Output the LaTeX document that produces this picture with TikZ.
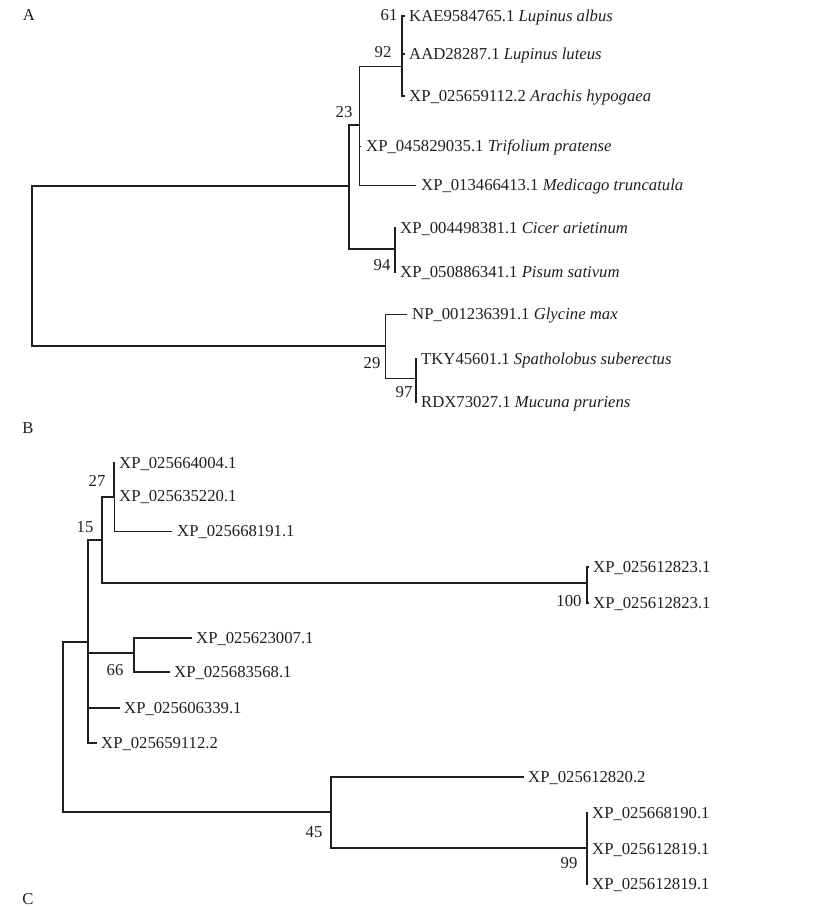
\documentclass[tikz,border=0pt]{standalone}
\usepackage{fontspec}
\setmainfont{Liberation Serif}
\begin{document}
\begin{tikzpicture}[x=1pt,y=-1pt,
  br/.style={line width=1.1pt, draw=black!88, line cap=rect},
  thk/.style={line width=1.7pt},
  thn/.style={line width=0.8pt},
  txt/.style={font=\fontsize{16.7}{18}\selectfont, text=black!88, text height=1.15em, text depth=0pt},
  leaf/.style={txt, anchor=west, inner xsep=5pt, inner ysep=0pt},
  bs/.style={txt, inner sep=0pt},
  panel/.style={txt, inner sep=0pt}]
\useasboundingbox (0,0) rectangle (823,908);

% ---------------- panel labels
\node[panel] (pA) at (29,15) {A};
\node[panel] (pB) at (28,428) {B};
\node[panel] (pC) at (28,899) {C};

% ================= Tree A
\coordinate (rA) at (32,266);
\coordinate (nX) at (349,186);
\coordinate (n23) at (359,125);
\coordinate (n92) at (402,66);
\coordinate (n61) at (402,36);
\coordinate (n94) at (395,249);
\coordinate (n29) at (385,346);
\coordinate (n97) at (416,378);

\node[leaf] (albus) at (404,16) {KAE9584765.1 \textit{Lupinus albus}};
\node[leaf] (luteus) at (404,54) {AAD28287.1 \textit{Lupinus luteus}};
\node[leaf] (arachis) at (404,96) {XP\_025659112.2 \textit{Arachis hypogaea}};
\node[leaf] (trif) at (361,146) {XP\_045829035.1 \textit{Trifolium pratense}};
\node[leaf] (medic) at (416,185) {XP\_013466413.1 \textit{Medicago truncatula}};
\node[leaf] (cicer) at (395,228) {XP\_004498381.1 \textit{Cicer arietinum}};
\node[leaf] (pisum) at (395,272) {XP\_050886341.1 \textit{Pisum sativum}};
\node[leaf] (glyc) at (407,314) {NP\_001236391.1 \textit{Glycine max}};
\node[leaf] (spat) at (416,359) {TKY45601.1 \textit{Spatholobus suberectus}};
\node[leaf] (mucu) at (416,402) {RDX73027.1 \textit{Mucuna pruriens}};

\draw[br,thk] (rA) |- (nX);
\draw[br,thk] (rA) |- (n29);
\draw[br,thk] (nX) |- (n23);
\draw[br,thk] (nX) |- (n94);
\draw[br,thn] (n23) |- (n92);
\draw[br,thn] (n23) |- (trif.west);
\draw[br,thn] (n23) |- (medic.west);
\draw[br,thk] (n92) |- (n61);
\draw[br] (n61) |- (albus.west);
\draw[br] (n61) |- (luteus.west);
\draw[br] (n92) |- (arachis.west);
\draw[br] (n94) |- (cicer.west);
\draw[br] (n94) |- (pisum.west);
\draw[br,thn] (n29) |- (glyc.west);
\draw[br,thn] (n29) |- (n97);
\draw[br,thk] (n97) |- (spat.west);
\draw[br,thk] (n97) |- (mucu.west);

\node[bs] (b61) at (389,15) {61};
\node[bs] (b92) at (383,52) {92};
\node[bs] (b23) at (344,112) {23};
\node[bs] (b94) at (382,265) {94};
\node[bs] (b29) at (372,363) {29};
\node[bs] (b97) at (404,392) {97};

% ================= Tree B
\coordinate (rB) at (63,727);
\coordinate (n88) at (88,642);
\coordinate (n15) at (102,540);
\coordinate (n27) at (114,497);
\coordinate (n100) at (587,583);
\coordinate (n66) at (134,653);
\coordinate (n45) at (331,812);
\coordinate (n99) at (587,848);

\node[leaf] (l1) at (114,463) {XP\_025664004.1};
\node[leaf] (l2) at (114,496) {XP\_025635220.1};
\node[leaf] (l3) at (172,531) {XP\_025668191.1};
\node[leaf] (l4) at (588,567) {XP\_025612823.1};
\node[leaf] (l5) at (588,603) {XP\_025612823.1};
\node[leaf] (l6) at (191,638) {XP\_025623007.1};
\node[leaf] (l7) at (169,672) {XP\_025683568.1};
\node[leaf] (l8) at (119,708) {XP\_025606339.1};
\node[leaf] (l9) at (96,743) {XP\_025659112.2};
\node[leaf] (l10) at (523,777) {XP\_025612820.2};
\node[leaf] (l11) at (587,813) {XP\_025668190.1};
\node[leaf] (l12) at (587,849) {XP\_025612819.1};
\node[leaf] (l13) at (587,884) {XP\_025612819.1};

\draw[br] (rB) |- (n88);
\draw[br] (rB) |- (n45);
\draw[br,thk] (n88) |- (n15);
\draw[br] (n88) |- (n66);
\draw[br,thk] (n88) |- (l8.west);
\draw[br,thk] (n88) |- (l9.west);
\draw[br] (n15) |- (n27);
\draw[br,thk] (n15) |- (n100);
\draw[br] (n27) |- (l1.west);
\draw[br] (n27) |- (l2.west);
\draw[br,thn] (n27) |- (l3.west);
\draw[br,thk] (n100) |- (l4.west);
\draw[br,thk] (n100) |- (l5.west);
\draw[br] (n66) |- (l6.west);
\draw[br] (n66) |- (l7.west);
\draw[br,thk] (n45) |- (l10.west);
\draw[br,thk] (n45) |- (n99);
\draw[br,thk] (n99) |- (l11.west);
\draw[br,thk] (n99) |- (l12.west);
\draw[br,thk] (n99) |- (l13.west);

\node[bs] (b27) at (97,481) {27};
\node[bs] (b15) at (85,527) {15};
\node[bs] (b100) at (569,601) {100};
\node[bs] (b66) at (115,670) {66};
\node[bs] (b45) at (314,832) {45};
\node[bs] (b99) at (569,863) {99};
\end{tikzpicture}
\end{document}
